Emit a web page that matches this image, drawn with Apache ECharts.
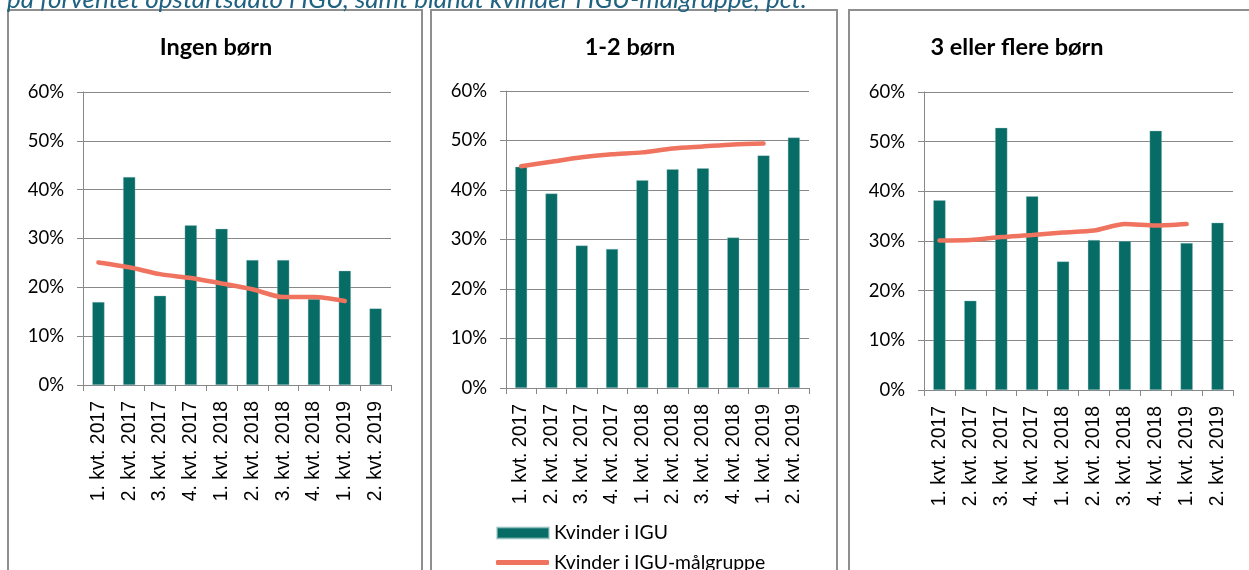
<!DOCTYPE html>
<html>
<head>
<meta charset="utf-8">
<script src="https://cdn.jsdelivr.net/npm/echarts@6/dist/echarts.min.js"></script>
<style>
html,body{margin:0;padding:0;background:#fff;}
#c{width:1249px;height:570px;}
</style>
</head>
<body>
<div id="c"></div>
<script>
const categories = ['1. kvt. 2017','2. kvt. 2017','3. kvt. 2017','4. kvt. 2017','1. kvt. 2018','2. kvt. 2018','3. kvt. 2018','4. kvt. 2018','1. kvt. 2019','2. kvt. 2019'];
const panelTitles = ['Ingen børn','1-2 børn','3 eller flere børn'];
const seriesNames = ['Kvinder i IGU','Kvinder i IGU-målgruppe'];
const subtitle = 'på forventet opstartsdato i IGU, samt blandt kvinder i IGU-målgruppe, pct.';

const igu0 = [17.0, 42.6, 18.3, 32.7, 32.0, 25.6, 25.6, 17.6, 23.4, 15.7];
const grp0 = [25.1, 24.1, 22.7, 21.9, 20.8, 19.6, 18.0, 18.0, 17.2];
const igu1 = [44.7, 39.3, 28.8, 28.1, 42.0, 44.2, 44.4, 30.4, 47.0, 50.6];
const grp1 = [44.8, 45.7, 46.6, 47.2, 47.6, 48.4, 48.8, 49.2, 49.4];
const igu2 = [38.2, 18.0, 52.8, 39.0, 25.9, 30.2, 30.0, 52.2, 29.6, 33.7];
const grp2 = [30.1, 30.2, 30.8, 31.2, 31.7, 32.1, 33.4, 33.1, 33.4];
const yTicks = {min: 0, max: 60, interval: 10};

const iguData = [igu0, igu1, igu2];
const grpData = [grp0, grp1, grp2];

const TEAL = '#076B66';
const SALMON = '#F0735F';
const GRAY = '#888888';
const FONT = 'Lato, "Open Sans", sans-serif';

const grids = [
  {left: 83, top: 92, width: 308, height: 293},
  {left: 506, top: 91, width: 303, height: 297},
  {left: 924, top: 92, width: 309, height: 298}
];
const panels = [
  {x: 8, w: 414},
  {x: 431, w: 406},
  {x: 849, w: 420}
];
const titleCenters = [216, 630, 1017];

const chart = echarts.init(document.getElementById('c'), null, {renderer: 'canvas'});

const xAxes = [], yAxes = [], series = [], titles = [];
for (let i = 0; i < 3; i++) {
  xAxes.push({
    type: 'category', gridIndex: i, data: categories, boundaryGap: true,
    axisLine: {lineStyle: {color: GRAY, width: 1}},
    axisTick: {show: true, alignWithLabel: false, length: 6, lineStyle: {color: GRAY}},
    axisLabel: {rotate: 90, interval: 0, color: '#000', fontSize: 19.4, fontFamily: '"Liberation Sans", Arial, sans-serif', margin: 16}
  });
  yAxes.push({
    type: 'value', gridIndex: i, min: yTicks.min, max: yTicks.max, interval: yTicks.interval,
    axisLine: {show: true, lineStyle: {color: GRAY, width: 1}},
    axisTick: {show: true, length: 6, lineStyle: {color: GRAY}},
    splitLine: {show: true, lineStyle: {color: GRAY, width: 1}},
    axisLabel: {formatter: '{value}%', color: '#000', fontSize: 18.5, fontFamily: FONT, margin: 19}
  });
  series.push({
    name: seriesNames[0], type: 'bar', xAxisIndex: i, yAxisIndex: i,
    data: iguData[i], barWidth: '40%',
    itemStyle: {color: TEAL, borderColor: 'rgba(160,200,198,0.6)', borderWidth: 0.6},
    animation: false, z: 2
  });
  series.push({
    name: seriesNames[1], type: 'line', xAxisIndex: i, yAxisIndex: i,
    data: grpData[i], smooth: 0.25, symbol: 'none',
    lineStyle: {color: SALMON, width: 4.5, cap: 'round'}, itemStyle: {color: SALMON},
    animation: false, z: 3
  });
  titles.push({
    text: panelTitles[i], left: titleCenters[i], top: 35, textAlign: 'center', padding: 0,
    textStyle: {fontSize: 23.5, fontWeight: 'bold', color: '#000', fontFamily: FONT}
  });
}

const graphic = [];
panels.forEach(p => {
  graphic.push({type: 'rect', shape: {x: p.x, y: 10, width: p.w, height: 600},
    style: {fill: null, stroke: '#8f8f8f', lineWidth: 2}, z: -1, silent: true});
});
graphic.push({type: 'text', x: 7, y: -13,
  style: {text: subtitle, fill: '#1F6281', font: 'italic 26px Lato, "Open Sans", sans-serif'}, z: 10, silent: true});

chart.setOption({
  animation: false,
  backgroundColor: '#fff',
  title: titles,
  grid: grids,
  xAxis: xAxes,
  yAxis: yAxes,
  legend: [
    {data: [{name: seriesNames[0], icon: 'rect'}], left: 496, top: 523.5, padding: 0, itemWidth: 52, itemHeight: 11, itemGap: 6,
     textStyle: {fontSize: 19.4, color: '#000', fontFamily: FONT}, selectedMode: false},
    {data: [{name: seriesNames[1], icon: 'roundRect'}], left: 496, top: 553, padding: 0, itemWidth: 53, itemHeight: 5, itemGap: 6,
     textStyle: {fontSize: 19.4, color: '#000', fontFamily: FONT}, selectedMode: false}
  ],
  series: series,
  graphic: graphic
});
</script>
</body>
</html>
